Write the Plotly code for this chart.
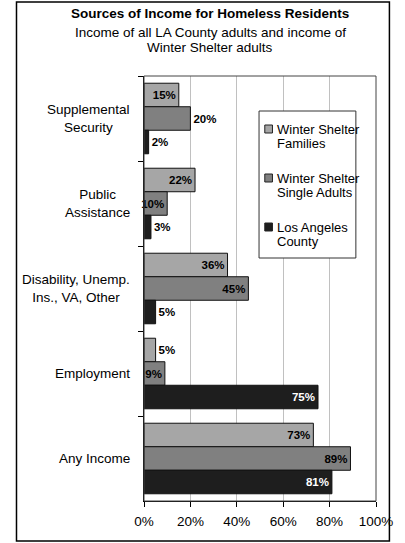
import plotly.graph_objects as go

# ---- data -------------------------------------------------------------
categories = [
    "Supplemental<br>Security",
    "Public<br>Assistance",
    "Disability, Unemp.<br>Ins., VA, Other",
    "Employment",
    "Any Income",
]
series_names = [
    "Winter Shelter<br>Families",
    "Winter Shelter<br>Single Adults",
    "Los Angeles<br>County",
]
families = [15, 22, 36, 5, 73]
single_adults = [20, 10, 45, 9, 89]
la_county = [2, 3, 5, 75, 81]
x_ticks = [0, 20, 40, 60, 80, 100]

title_text = "Sources of Income for Homeless Residents"
subtitle_lines = ["Income of all LA County adults and income of", "Winter Shelter adults"]

# ---- styling ----------------------------------------------------------
W, H = 405, 543
L, R, T, B = 144, 19, 76, 42
PW, PH = W - L - R, H - T - B
FONT = "Liberation Sans, Arial, sans-serif"

fills = ["#a6a6a6", "#808080", "#1e1e1e"]
inside_colors = ["black", "black", "white"]
# value labels placed beyond the bar end
label_outside = [
    [False, False, False, True, False],
    [True, False, False, False, False],
    [True, True, True, False, False],
]


def px_x(px):
    return (px - L) / PW


def px_y(py):
    return (T + PH - py) / PH


fig = go.Figure()
for name, vals, fill, tcol, outside in zip(
    series_names, [families, single_adults, la_county], fills, inside_colors, label_outside
):
    fig.add_trace(
        go.Bar(
            y=categories,
            x=vals,
            orientation="h",
            name=name,
            marker=dict(color=fill, line=dict(color="#111111", width=1)),
            text=[f"{v}%" for v in vals],
            textposition=["outside" if o else "inside" for o in outside],
            textangle=0,
            insidetextanchor="end",
            insidetextfont=dict(color=tcol, family=FONT, size=11.5, weight="bold"),
            outsidetextfont=dict(color="black", family=FONT, size=11.5, weight="bold"),
            constraintext="none",
            cliponaxis=False,
            showlegend=False,
            hoverinfo="skip",
        )
    )

fig.update_layout(
    width=W,
    height=H,
    margin=dict(l=L, r=R, t=T, b=B),
    paper_bgcolor="white",
    plot_bgcolor="white",
    barmode="group",
    bargap=0.17,
    bargroupgap=0,
    font=dict(family=FONT, color="black", size=13),
    showlegend=False,
)

fig.update_xaxes(
    range=[0, 100],
    tickvals=x_ticks,
    ticktext=[f"{v}%" for v in x_ticks],
    showgrid=True,
    gridcolor="#c0c0c0",
    gridwidth=1,
    showline=True,
    linecolor="black",
    linewidth=1,
    ticks="outside",
    ticklen=5,
    tickcolor="black",
    ticklabelstandoff=3,
    tickfont=dict(size=13.5, family=FONT),
    zeroline=False,
)
fig.update_yaxes(
    range=[len(categories) - 0.5, -0.5],
    showgrid=False,
    showline=True,
    linecolor="black",
    linewidth=1,
    ticks="outside",
    tickson="boundaries",
    ticklen=5,
    tickcolor="black",
    showticklabels=False,
    zeroline=False,
)

shapes = []
annotations = []

# plot-area frame (top and right edges)
shapes.append(dict(type="rect", xref="paper", yref="paper", x0=0, x1=1, y0=0, y1=1,
                   line=dict(color="#444444", width=1), layer="above"))
# outer chart border
shapes.append(dict(type="rect", xref="paper", yref="paper",
                   x0=px_x(11), x1=px_x(400), y0=px_y(541), y1=px_y(2),
                   line=dict(color="black", width=1.5), layer="above"))

# category labels, centred lines, right edge near the axis
for cat in categories:
    annotations.append(dict(xref="paper", yref="y", x=px_x(132), y=cat, text=cat,
                            xanchor="right", yanchor="middle", align="center",
                            showarrow=False, font=dict(size=13.5, family=FONT)))

# title block
annotations.append(dict(xref="paper", yref="paper", x=px_x(213), y=px_y(14),
                        text=f"<b>{title_text}</b>", showarrow=False,
                        xanchor="center", yanchor="middle",
                        font=dict(size=13.5, family=FONT)))
for i, line in enumerate(subtitle_lines):
    annotations.append(dict(xref="paper", yref="paper", x=px_x(213), y=px_y(32 + 16 * i),
                            text=line, showarrow=False, xanchor="center", yanchor="middle",
                            font=dict(size=13.5, family=FONT)))

# legend box
shapes.append(dict(type="rect", xref="paper", yref="paper",
                   x0=px_x(264), x1=px_x(365), y0=px_y(258), y1=px_y(111),
                   line=dict(color="#333333", width=1), fillcolor="white", layer="above"))
for i, (name, fill) in enumerate(zip(series_names, fills)):
    cy = 129 + 49 * i
    shapes.append(dict(type="rect", xref="paper", yref="paper",
                       x0=px_x(270), x1=px_x(278), y0=px_y(cy + 4), y1=px_y(cy - 4),
                       line=dict(color="#222222", width=1), fillcolor=fill, layer="above"))
    for j, part in enumerate(name.split("<br>")):
        annotations.append(dict(xref="paper", yref="paper", x=px_x(281), y=px_y(cy + 14.5 * j),
                                text=part, showarrow=False, xanchor="left", yanchor="middle",
                                font=dict(size=13, family=FONT)))

fig.update_layout(shapes=shapes, annotations=annotations)

fig.write_html("out.html")
